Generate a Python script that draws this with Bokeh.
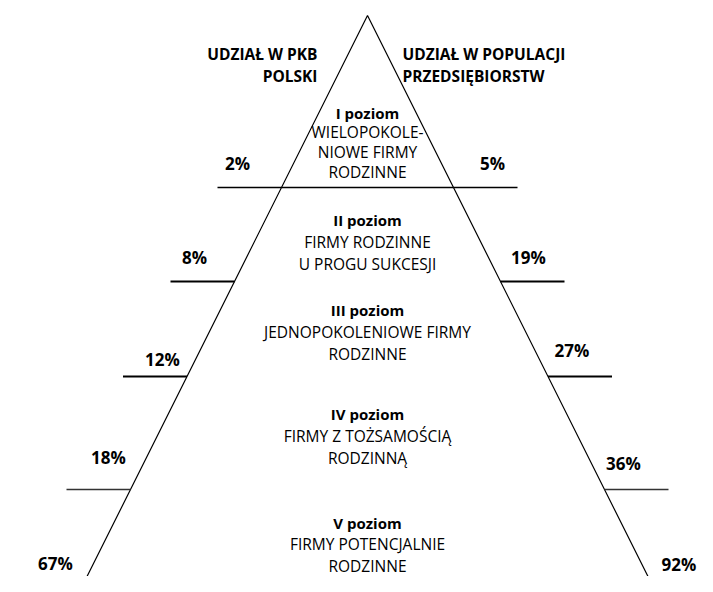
from bokeh.plotting import figure
from bokeh.models import Range1d
from bokeh.core.properties import value
from bokeh.embed import file_html
from bokeh.resources import INLINE

# ---- data ----
levels = ["I poziom", "II poziom", "III poziom", "IV poziom", "V poziom"]
level_desc = [
    ["WIELOPOKOLE-", "NIOWE FIRMY", "RODZINNE"],
    ["FIRMY RODZINNE", "U PROGU SUKCESJI"],
    ["JEDNOPOKOLENIOWE FIRMY", "RODZINNE"],
    ["FIRMY Z TOŻSAMOŚCIĄ", "RODZINNĄ"],
    ["FIRMY POTENCJALNIE", "RODZINNE"],
]
pkb_share = [2, 8, 12, 18, 67]
population_share = [5, 19, 27, 36, 92]
left_header = ["UDZIAŁ W PKB", "POLSKI"]
right_header = ["UDZIAŁ W POPULACJI", "PRZEDSIĘBIORSTW"]

# ---- layout (screen-like coordinates) ----
W, H = 697, 576
APEX_X, APEX_Y, SLOPE = 367, 15, 0.5
boundaries = [187, 281, 376, 489]
TICK = 64
title_y = [112, 219, 309, 413, 522]
line_gap = [19.7, 22, 22, 22, 21.5]
left_lab = [(163, 56), (257, 52), (359, 33), (457, 38), (563, 38)]
right_lab = [(163, 51), (257, 40), (350, 37), (463, 32), (564, 37)]
FONT = value("Open Sans")

def left_x(y):
    return APEX_X - SLOPE * (y - APEX_Y)

def right_x(y):
    return APEX_X + SLOPE * (y - APEX_Y)

p = figure(width=W, height=H, output_backend="svg", toolbar_location=None,
           x_range=Range1d(0, W), y_range=Range1d(H, 0),
           min_border=0, outline_line_color=None)
p.axis.visible = False
p.grid.visible = False

# pyramid edges
y_bot = 620
p.line([left_x(y_bot), APEX_X, right_x(y_bot)], [y_bot, APEX_Y, y_bot],
       line_color="black", line_width=1.2)

# boundary lines
for i, yb in enumerate(boundaries):
    lw = 1.8 if i < 3 else 1.4
    col = "black" if i < 3 else "#333333"
    if i == 0:
        p.line([left_x(yb) - TICK, right_x(yb) + TICK], [yb, yb], line_color=col, line_width=1.6)
    else:
        p.line([left_x(yb) - TICK, left_x(yb)], [yb, yb], line_color=col, line_width=lw)
        p.line([right_x(yb), right_x(yb) + TICK], [yb, yb], line_color=col, line_width=lw)

# headers
p.text(x=[317, 317], y=[53, 75], text=left_header, text_align="right",
       text_baseline="middle", text_font=FONT, text_font_style="bold",
       text_font_size="15.5px", text_color="black")
p.text(x=[402, 402], y=[53, 75], text=right_header, text_align="left",
       text_baseline="middle", text_font=FONT, text_font_style="bold",
       text_font_size="15.5px", text_color="black")

# level texts
for i, name in enumerate(levels):
    p.text(x=[APEX_X], y=[title_y[i]], text=[name], text_align="center",
           text_baseline="middle", text_font=FONT, text_font_style="bold",
           text_font_size="15px", text_color="black")
    ys = [title_y[i] + line_gap[i] * (k + 1) for k in range(len(level_desc[i]))]
    p.text(x=[APEX_X] * len(ys), y=ys, text=level_desc[i], text_align="center",
           text_baseline="middle", text_font=FONT, text_font_size="15.5px",
           text_color="black")

# percentages
lx = [left_x(y) - d for y, d in left_lab]
ly = [y for y, d in left_lab]
rx = [right_x(y) + d for y, d in right_lab]
ry = [y for y, d in right_lab]
p.text(x=lx, y=ly, text=[f"{v}%" for v in pkb_share], text_align="center",
       text_baseline="middle", text_font=FONT, text_font_style="bold",
       text_font_size="17px", text_color="black")
p.text(x=rx, y=ry, text=[f"{v}%" for v in population_share], text_align="center",
       text_baseline="middle", text_font=FONT, text_font_style="bold",
       text_font_size="17px", text_color="black")

open("out.html", "w").write(file_html(p, INLINE))
